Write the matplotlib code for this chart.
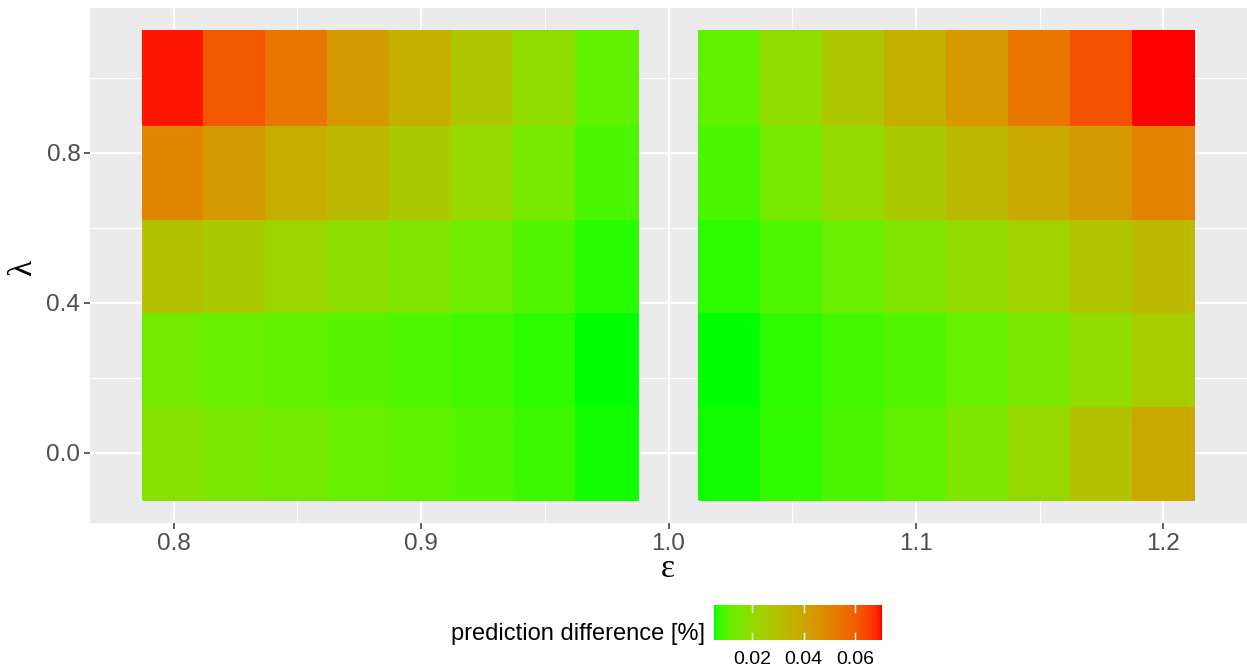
import numpy as np
import matplotlib
matplotlib.use("Agg")
import matplotlib.pyplot as plt
from matplotlib.colors import LinearSegmentedColormap, Normalize

# grid of parameters
eps_left = [0.8, 0.825, 0.85, 0.875, 0.9, 0.925, 0.95, 0.975]
eps_right = [1.025, 1.05, 1.075, 1.1, 1.125, 1.15, 1.175, 1.2]
lam = [0.0, 0.25, 0.5, 0.75, 1.0]

# prediction difference, rows follow lam (0 -> 1)
diff_left = [
    [0.0173, 0.0150, 0.0134, 0.0119, 0.0106, 0.0096, 0.0077, 0.0057],
    [0.0136, 0.0119, 0.0111, 0.0100, 0.0092, 0.0081, 0.0067, 0.0052],
    [0.0296, 0.0264, 0.0221, 0.0188, 0.0161, 0.0130, 0.0094, 0.0064],
    [0.0497, 0.0435, 0.0369, 0.0324, 0.0264, 0.0211, 0.0143, 0.0087],
    [0.0695, 0.0610, 0.0542, 0.0435, 0.0362, 0.0279, 0.0197, 0.0111],
]
diff_right = [
    [0.0056, 0.0069, 0.0087, 0.0111, 0.0158, 0.0215, 0.0296, 0.0386],
    [0.0054, 0.0067, 0.0081, 0.0094, 0.0119, 0.0150, 0.0197, 0.0257],
    [0.0066, 0.0091, 0.0127, 0.0161, 0.0201, 0.0239, 0.0283, 0.0324],
    [0.0087, 0.0143, 0.0206, 0.0264, 0.0324, 0.0386, 0.0435, 0.0508],
    [0.0111, 0.0197, 0.0277, 0.0362, 0.0444, 0.0542, 0.0625, 0.0705],
]
cbar_ticks = [0.02, 0.04, 0.06]


# green -> red gradient interpolated in CIELAB (like ggplot's scale_fill_gradient)
def srgb_to_lab(rgb):
    c = np.array(rgb, dtype=float)
    lin = np.where(c <= 0.04045, c / 12.92, ((c + 0.055) / 1.055) ** 2.4)
    m = np.array([[0.4124, 0.3576, 0.1805],
                  [0.2126, 0.7152, 0.0722],
                  [0.0193, 0.1192, 0.9505]])
    xyz = m @ lin / np.array([0.95047, 1.0, 1.08883])
    f = np.where(xyz > 0.008856, np.cbrt(xyz), 7.787 * xyz + 16 / 116)
    return np.array([116 * f[1] - 16, 500 * (f[0] - f[1]), 200 * (f[1] - f[2])])


def lab_to_srgb(lab):
    L, a, b = lab
    fy = (L + 16) / 116
    fx = fy + a / 500
    fz = fy - b / 200
    f = np.array([fx, fy, fz])
    xyz = np.where(f > 0.2069, f ** 3, (f - 16 / 116) / 7.787)
    xyz = xyz * np.array([0.95047, 1.0, 1.08883])
    m = np.array([[3.2406, -1.5372, -0.4986],
                  [-0.9689, 1.8758, 0.0415],
                  [0.0557, -0.2040, 1.0570]])
    lin = np.clip(m @ xyz, 0, 1)
    c = np.where(lin <= 0.0031308, 12.92 * lin, 1.055 * lin ** (1 / 2.4) - 0.055)
    return np.clip(c, 0, 1)


lab_lo = srgb_to_lab([0, 1, 0])
lab_hi = srgb_to_lab([1, 0, 0])
ramp = [lab_to_srgb(lab_lo + s * (lab_hi - lab_lo)) for s in np.linspace(0, 1, 256)]
cmap = LinearSegmentedColormap.from_list("green_red", ramp)

all_vals = np.concatenate([np.ravel(diff_left), np.ravel(diff_right)])
norm = Normalize(vmin=all_vals.min(), vmax=all_vals.max())

plt.rcParams['font.family'] = ['Liberation Sans', 'DejaVu Sans']

fig = plt.figure(figsize=(12.47, 6.69), dpi=100)
ax = fig.add_axes([0.0722, 0.2182, 0.9278, 0.7703])
ax.set_facecolor('#EBEBEB')


def edges(centers, step):
    c = np.asarray(centers)
    return np.append(c - step / 2, c[-1] + step / 2)


for xs, vals in [(eps_left, diff_left), (eps_right, diff_right)]:
    ax.pcolormesh(edges(xs, 0.025), edges(lam, 0.25), np.array(vals),
                  cmap=cmap, norm=norm, edgecolors='face', linewidth=0.3, zorder=2)

ax.set_xlim(0.76625, 1.23375)
ax.set_ylim(-0.1875, 1.1875)
ax.set_xticks([0.8, 0.9, 1.0, 1.1, 1.2])
ax.set_xticks([0.85, 0.95, 1.05, 1.15], minor=True)
ax.set_yticks([0.0, 0.4, 0.8])
ax.set_yticks([0.2, 0.6, 1.0], minor=True)
ax.set_xticklabels(['0.8', '0.9', '1.0', '1.1', '1.2'])
ax.set_yticklabels(['0.0', '0.4', '0.8'])
ax.grid(which='major', color='white', linewidth=1.6, zorder=0)
ax.grid(which='minor', color='white', linewidth=0.8, zorder=0)
ax.set_axisbelow(True)
for s in ax.spines.values():
    s.set_visible(False)
ax.tick_params(which='major', length=4, width=1.1, color='#333333',
               labelsize=17.5, labelcolor='#4D4D4D', pad=3)
ax.tick_params(which='minor', length=0)

ax.set_xlabel('ε', fontsize=24, family=['Liberation Serif', 'DejaVu Serif'])
ax.set_ylabel('λ', fontsize=24, family=['Liberation Serif', 'DejaVu Serif'])
ax.xaxis.set_label_coords(0.4996, -0.089)
ax.yaxis.set_label_coords(-0.058, 0.495)
ax.xaxis.label.set_va('center')
ax.yaxis.label.set_va('center')

# colour bar legend
cax = fig.add_axes([0.5726, 0.0433, 0.1347, 0.0523])
grad = np.linspace(norm.vmin, norm.vmax, 300)
cax.imshow(grad[np.newaxis, :], aspect='auto', cmap=cmap, norm=norm,
           extent=[norm.vmin, norm.vmax, 0, 1])
cax.set_xlim(norm.vmin, norm.vmax)
cax.set_ylim(0, 1)
cax.set_yticks([])
cax.set_xticks(cbar_ticks)
cax.set_xticklabels(['0.02', '0.04', '0.06'])
for y0, y1 in [(0, 0.2), (0.8, 1)]:
    for t in cbar_ticks:
        cax.plot([t, t], [y0, y1], color='white', linewidth=1)
cax.tick_params(axis='x', length=0, labelsize=14, labelcolor='black', pad=8)
for s in cax.spines.values():
    s.set_visible(False)

fig.text(0.5654, 0.053, 'prediction difference [%]', fontsize=17,
         ha='right', va='center')

fig.savefig('out.png', dpi=100)
